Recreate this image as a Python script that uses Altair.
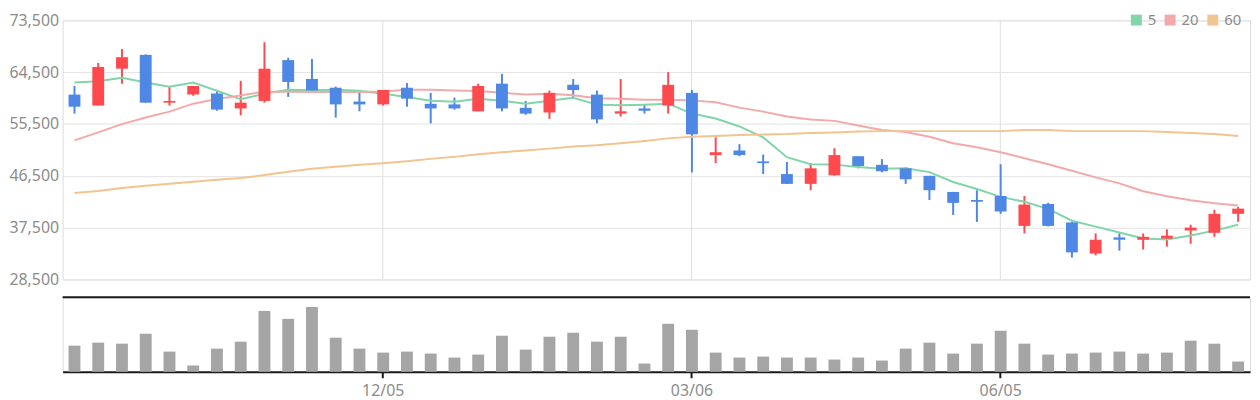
import altair as alt
import pandas as pd

weeks = ["09/05", "09/12", "09/19", "09/26", "10/03", "10/10", "10/17", "10/24", "10/31", "11/07",
         "11/14", "11/21", "11/28", "12/05", "12/12", "12/19", "12/26", "01/02", "01/09", "01/16",
         "01/23", "01/30", "02/06", "02/13", "02/20", "02/27", "03/06", "03/13", "03/20", "03/27",
         "04/03", "04/10", "04/17", "04/24", "05/01", "05/08", "05/15", "05/22", "05/29", "06/05",
         "06/12", "06/19", "06/26", "07/03", "07/10", "07/17", "07/24", "07/31", "08/07", "08/14"]

opens = [60600, 58700, 65100, 67500, 59200, 60600, 60800, 58200, 59500, 66600,
         63300, 61800, 59400, 58900, 61800, 59000, 58900, 57700, 62500, 58300,
         57500, 62300, 60600, 57300, 58200, 58700, 60900, 50100, 50900, 49000,
         46800, 45100, 46600, 49900, 48400, 47800, 46500, 43700, 42300, 43000,
         37800, 41600, 38400, 33000, 35800, 35400, 35600, 37000, 36600, 39900]
highs = [62100, 66100, 68500, 67600, 62000, 62100, 61300, 63000, 69700, 67000,
         66800, 62000, 61300, 61400, 62600, 60900, 60100, 62500, 64200, 59500,
         61300, 63300, 61300, 63300, 58900, 64500, 61400, 53200, 52000, 50200,
         48900, 48700, 51300, 49900, 49400, 48000, 46500, 43700, 44000, 48500,
         43000, 41800, 38500, 36500, 36500, 36500, 37200, 38000, 40600, 41100]
lows = [57300, 58700, 62500, 59200, 58700, 60400, 57800, 57000, 59200, 60200,
        61100, 56600, 57700, 58700, 58500, 55600, 58000, 57700, 57700, 57100,
        56400, 60200, 55600, 56800, 57300, 57300, 47100, 48700, 49900, 46800,
        45100, 44000, 46500, 47800, 47100, 45100, 42300, 39700, 38500, 39900,
        36500, 37700, 32300, 32700, 33500, 33700, 34200, 34700, 35900, 38500]
closes = [58500, 65400, 67100, 59200, 59500, 62100, 58000, 59200, 65100, 62800,
          61300, 58900, 58900, 61400, 59900, 58200, 58200, 62100, 58200, 57300,
          60900, 61400, 56300, 57700, 57800, 62300, 53700, 50600, 50100, 48700,
          45100, 47800, 50100, 48200, 47300, 45900, 44000, 41800, 42000, 40300,
          41500, 37800, 33200, 35400, 35400, 35900, 36100, 37500, 39900, 40800]
volumes = [79000, 88000, 85000, 115000, 61000, 19000, 70000, 91000, 184000, 160000,
           196000, 103000, 70000, 58000, 61000, 55000, 43000, 52000, 109000, 67000,
           106000, 118000, 91000, 106000, 25000, 145000, 127000, 58000, 43000, 46000,
           43000, 43000, 37000, 43000, 34000, 70000, 88000, 55000, 85000, 124000,
           85000, 52000, 55000, 58000, 61000, 55000, 58000, 94000, 85000, 31000]

ma_names = ["5", "20", "60"]
ma5 = [62700, 62940, 63510, 62700, 61960, 62700, 61270, 59780, 60750, 61440,
       61380, 61440, 61270, 60750, 60180, 59550, 59380, 59890, 59550, 59030,
       59550, 60060, 58860, 58740, 58860, 59030, 57310, 56450, 55070, 53170,
       49730, 48520, 48470, 48010, 47720, 47830, 47140, 45420, 44220, 42840,
       41980, 40770, 38700, 37670, 36640, 35600, 35430, 36120, 36980, 38010]
ma20 = [52660, 54040, 55470, 56620, 57650, 59030, 59830, 60470, 61100, 61100,
        61040, 61040, 61040, 61160, 61440, 61440, 61330, 61210, 60930, 60640,
        60750, 60470, 59950, 59890, 59720, 59720, 59600, 59260, 58340, 57650,
        56790, 56270, 56040, 55240, 54440, 54090, 53290, 52140, 51450, 50590,
        49560, 48520, 47370, 46230, 45190, 43810, 42950, 42260, 41750, 41350]
ma60 = [43530, 43870, 44390, 44790, 45140, 45480, 45820, 46110, 46630, 47200,
        47720, 48060, 48410, 48700, 49040, 49440, 49790, 50250, 50590, 50880,
        51220, 51570, 51800, 52140, 52540, 53000, 53290, 53400, 53580, 53690,
        53750, 53920, 54040, 54210, 54260, 54260, 54260, 54260, 54260, 54260,
        54440, 54440, 54260, 54260, 54260, 54260, 54090, 53920, 53750, 53400]
ma_colors = ["#80d5a9", "#f2a9a9", "#f1c491"]

tick_weeks = ["12/05", "03/06", "06/05"]
price_ticks = [28500, 37500, 46500, 55500, 64500, 73500]

UP = "#fe4a4f"
DOWN = "#4f87e4"
VOL = "#a5a5a5"
LABEL = "#8c8c8c"
FONT = "Noto Sans"
W = 1196

candles = pd.DataFrame({"week": weeks, "open": opens, "high": highs, "low": lows,
                        "close": closes, "volume": volumes})
ma_df = pd.DataFrame({
    "week": weeks * 3,
    "ma": [n for n in ma_names for _ in weeks],
    "value": ma5 + ma20 + ma60,
})

x_scale = alt.Scale(type="band", domain=weeks, paddingInner=0.5, paddingOuter=0.25)
y_scale = alt.Scale(domain=[price_ticks[0], price_ticks[-1]], zero=False, nice=False)

y_axis = alt.Axis(values=price_ticks, format=",d", title=None, domain=False,
                  ticks=False, labelFontSize=16, labelColor=LABEL, labelFont=FONT,
                  labelPadding=4, gridColor="#e3e3e3")
x_axis_price = alt.Axis(values=tick_weeks, labels=False, ticks=False, domain=False,
                        grid=True, gridColor="#dedede", bandPosition=0.5, title=None)


def px():
    return alt.X("week:O", scale=x_scale, axis=x_axis_price)


def py(field):
    return alt.Y(field, scale=y_scale, axis=y_axis)


updown = alt.condition("datum.close >= datum.open", alt.value(UP), alt.value(DOWN))

# line colours: data-derived domain (so the disabled colour legend is not merged with the fill legend)
lines = alt.Chart(ma_df).mark_line(strokeWidth=2).encode(
    x=px(), y=py("value:Q"),
    color=alt.Color("ma:N", sort=ma_names, scale=alt.Scale(range=ma_colors), legend=None),
)

legend_layer = alt.Chart(ma_df).mark_square(opacity=0.01).encode(
    x=px(), y=py("value:Q"),
    fill=alt.Fill("ma:N", scale=alt.Scale(domain=ma_names, range=ma_colors),
                  legend=alt.Legend(title=None, orient="none", legendX=1074, legendY=-8,
                                    direction="horizontal", symbolType="square",
                                    symbolSize=121, symbolOpacity=1, symbolStrokeWidth=0,
                                    labelFontSize=15, labelColor=LABEL, labelFont=FONT,
                                    labelOffset=4, columnPadding=6, padding=0)),
)

wicks = alt.Chart(candles).mark_rule(strokeWidth=2).encode(
    x=px(), y=py("low:Q"), y2="high:Q", color=updown)

bodies = alt.Chart(candles).mark_bar().encode(
    x=px(), y=py("open:Q"), y2="close:Q", color=updown)

price = alt.layer(wicks, lines, legend_layer, bodies).properties(width=W, height=261)

vol_bars = alt.Chart(candles).mark_bar(color=VOL).encode(
    x=alt.X("week:O", scale=x_scale,
            axis=alt.Axis(values=tick_weeks, title=None, grid=False, labelAngle=0,
                          bandPosition=0.5, domainColor="#1a1a1a", domainWidth=2,
                          tickColor="#1a1a1a", tickWidth=2, tickSize=6,
                          labelFontSize=16, labelColor=LABEL, labelFont=FONT, labelPadding=5)),
    y=alt.Y("volume:Q", scale=alt.Scale(domain=[0, 225000]), axis=None),
)
top_line = alt.Chart(alt.Data(values=[{"k": 0}])).mark_rule(color="#1a1a1a", strokeWidth=2).encode(
    x=alt.value(0), x2=alt.value(W), y=alt.value(0))

volume = alt.layer(vol_bars, top_line).properties(width=W, height=75)

chart = alt.vconcat(price, volume, spacing=7).resolve_scale(
    fill="independent", color="independent"
).resolve_legend(
    fill="independent", color="independent"
).properties(
    padding={"left": 0, "top": 2, "right": 0, "bottom": 0}
).configure_view(stroke=None).configure(font=FONT)

chart.save("out.html", embed_options={"renderer": "svg", "actions": False})
